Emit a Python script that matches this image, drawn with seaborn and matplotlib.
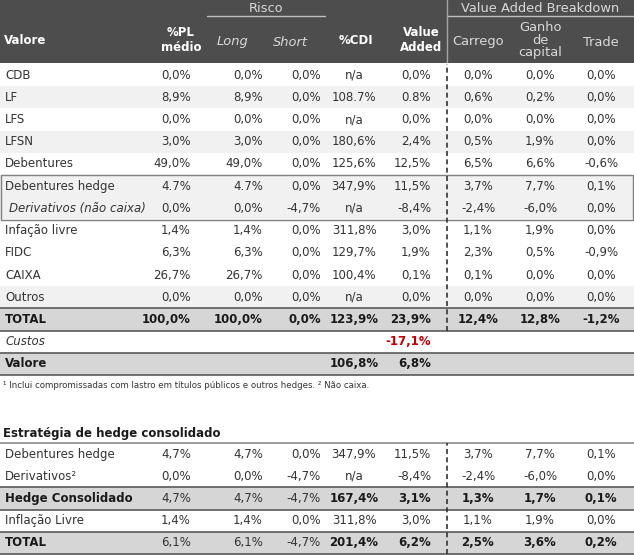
import matplotlib

matplotlib.use("Agg")
import matplotlib.pyplot as plt
import numpy as np
import seaborn as sns
from matplotlib.colors import ListedColormap
from matplotlib.patches import Rectangle

# ---- data -------------------------------------------------------------
top_labels = ["CDB", "LF", "LFS", "LFSN", "Debentures", "Debentures hedge",
              "Derivativos (não caixa)", "Infação livre", "FIDC", "CAIXA",
              "Outros", "TOTAL", "Custos", "Valore"]
top_pl = ["0,0%", "8,9%", "0,0%", "3,0%", "49,0%", "4.7%", "0,0%", "1,4%",
          "6,3%", "26,7%", "0,0%", "100,0%", "", ""]
top_long = ["0,0%", "8,9%", "0,0%", "3,0%", "49,0%", "4.7%", "0,0%", "1,4%",
            "6,3%", "26,7%", "0,0%", "100,0%", "", ""]
top_short = ["0,0%", "0,0%", "0,0%", "0,0%", "0,0%", "0,0%", "-4,7%", "0,0%",
             "0,0%", "0,0%", "0,0%", "0,0%", "", ""]
top_cdi = ["n/a", "108.7%", "n/a", "180,6%", "125,6%", "347,9%", "n/a",
           "311,8%", "129,7%", "100,4%", "n/a", "123,9%", "", "106,8%"]
top_va = ["0,0%", "0.8%", "0,0%", "2,4%", "12,5%", "11,5%", "-8,4%", "3,0%",
          "1,9%", "0,1%", "0,0%", "23,9%", "-17,1%", "6,8%"]
top_carrego = ["0,0%", "0,6%", "0,0%", "0,5%", "6,5%", "3,7%", "-2,4%", "1,1%",
               "2,3%", "0,1%", "0,0%", "12,4%", "", ""]
top_ganho = ["0,0%", "0,2%", "0,0%", "1,9%", "6,6%", "7,7%", "-6,0%", "1,9%",
             "0,5%", "0,0%", "0,0%", "12,8%", "", ""]
top_trade = ["0,0%", "0,0%", "0,0%", "0,0%", "-0,6%", "0,1%", "0,0%", "0,0%",
             "-0,9%", "0,0%", "0,0%", "-1,2%", "", ""]
# 0 = white, 1 = light band, 2 = total band
top_shade = [0, 1, 0, 1, 0, 1, 1, 0, 0, 0, 1, 2, 0, 2]

bot_labels = ["Debentures hedge", "Derivativos²", "Hedge Consolidado",
              "Inflação Livre", "TOTAL"]
bot_pl = ["4,7%", "0,0%", "4,7%", "1,4%", "6,1%"]
bot_long = ["4,7%", "0,0%", "4,7%", "1,4%", "6,1%"]
bot_short = ["0,0%", "-4,7%", "-4,7%", "0,0%", "-4,7%"]
bot_cdi = ["347,9%", "n/a", "167,4%", "311,8%", "201,4%"]
bot_va = ["11,5%", "-8,4%", "3,1%", "3,0%", "6,2%"]
bot_carrego = ["3,7%", "-2,4%", "1,3%", "1,1%", "2,5%"]
bot_ganho = ["7,7%", "-6,0%", "1,7%", "1,9%", "3,6%"]
bot_trade = ["0,1%", "0,0%", "0,1%", "0,0%", "0,2%"]
bot_shade = [0, 0, 2, 0, 2]

footnote = ("¹ Inclui compromissadas com lastro em títulos públicos e outros "
            "hedges. ² Não caixa.")

# ---- style ------------------------------------------------------------
sns.set_theme(style="white")
plt.rcParams["font.family"] = ["DejaVu Sans"]
W, H = 634, 555
HEAD = "#4d4d4d"
BAND = ["#ffffff", "#f1f1f1", "#d6d6d6"]
TXT = "#333333"
LINE = "#7f7f7f"
FS = 8.5

# column x positions (pixels) and alignment
cols = [(191, "right"), (263, "right"), (321, "right"), (354, "center"),
        (431, "right"), (478, "center"), (540, "center"), (601, "center")]
SEP_X = 447 / W

fig = plt.figure(figsize=(W / 100, H / 100), dpi=100)


def band_axes(top_px, bottom_px):
    return fig.add_axes([0, 1 - bottom_px / H, 1, (bottom_px - top_px) / H])


def fig_text(x, y, s, **kw):
    fig.text(x / W, 1 - y / H, s, va="center", **kw)


def shade_rows(ax, shade):
    sns.heatmap(np.array(shade).reshape(-1, 1), ax=ax, cmap=ListedColormap(BAND),
                vmin=-0.5, vmax=2.5, cbar=False, xticklabels=False,
                yticklabels=False)


def fill_rows(ax, labels, columns, bold_from):
    for i, lab in enumerate(labels):
        y = i + 0.5
        start = bold_from.get(i)
        lab_kw = dict(color=TXT, fontsize=FS, va="center")
        if start is not None:
            lab_kw["fontweight"] = "bold"
            lab_kw["color"] = "#1a1a1a"
        x0 = 5
        if lab in ("Derivativos (não caixa)", "Custos"):
            lab_kw["fontstyle"] = "italic"
            if lab.startswith("Deriv"):
                x0 = 9
        ax.text(x0 / W, y, lab, **lab_kw)
        for j, (col, (xp, ha)) in enumerate(zip(columns, cols)):
            s = col[i]
            if not s:
                continue
            kw = dict(color=TXT, fontsize=FS, va="center", ha=ha)
            if start is not None and j >= start:
                kw["fontweight"] = "bold"
                kw["color"] = "#1a1a1a"
            if lab == "Custos":
                kw["color"] = "#c00000"
                kw["fontweight"] = "bold"
            ax.text(xp / W, y, s, **kw)


# ---- header -----------------------------------------------------------
ax_head = band_axes(0, 63.5)
sns.heatmap(np.zeros((1, 1)), ax=ax_head, cmap=ListedColormap([HEAD]),
            cbar=False, xticklabels=False, yticklabels=False)
ax_head.axhline(16 / 63.5, xmin=207 / W, xmax=325 / W, color="#bfbfbf", lw=1)
ax_head.axhline(16 / 63.5, xmin=SEP_X, xmax=1, color="#bfbfbf", lw=1)
ax_head.axvline(SEP_X, color="#a6a6a6", lw=1)

white_b = dict(color="white", fontsize=FS, fontweight="bold")
light = dict(color="#d9d9d9", fontsize=9.4)
fig_text(4, 41, "Valore", ha="left", **white_b)
fig_text(181, 40, "%PL\nmédio", ha="center", linespacing=1.25, **white_b)
fig_text(356, 41, "%CDI", ha="center", **white_b)
fig_text(421, 40, "Value\nAdded", ha="center", linespacing=1.25, **white_b)
fig_text(266, 8, "Risco", ha="center", **light)
fig_text(540, 8, "Value Added Breakdown", ha="center", **light)
fig_text(233, 42, "Long", ha="center", fontstyle="italic", **light)
fig_text(290, 42, "Short", ha="center", fontstyle="italic", **light)
fig_text(478, 42, "Carrego", ha="center", **light)
fig_text(540, 40, "Ganho\nde\ncapital", ha="center", linespacing=0.95, **light)
fig_text(601, 42, "Trade", ha="center", **light)

# ---- top table --------------------------------------------------------
ax_top = band_axes(64, 375)
shade_rows(ax_top, top_shade)
top_cols = [top_pl, top_long, top_short, top_cdi, top_va,
            top_carrego, top_ganho, top_trade]
fill_rows(ax_top, top_labels, top_cols, {11: 0, 13: 0})
ax_top.add_patch(Rectangle((0.001, 5), 0.997, 2, fill=False, edgecolor=LINE,
                           lw=1, clip_on=False))
for yy in (11, 12, 13, 14):
    ax_top.axhline(yy, color="#595959", lw=1.2, clip_on=False)
ax_top.axvline(SEP_X, ymin=2 / 14, ymax=1, color="#333333", lw=1.2,
               linestyle=(0, (3, 2)))

fig_text(3, 386, footnote, ha="left", color=TXT, fontsize=6.2)

# ---- bottom table -----------------------------------------------------
fig_text(3, 433, "Estratégia de hedge consolidado", ha="left", color="#1a1a1a",
         fontsize=FS, fontweight="bold")
ax_bot = band_axes(443, 554)
shade_rows(ax_bot, bot_shade)
bot_cols = [bot_pl, bot_long, bot_short, bot_cdi, bot_va,
            bot_carrego, bot_ganho, bot_trade]
fill_rows(ax_bot, bot_labels, bot_cols, {2: 3, 4: 3})
for yy in (0, 2, 3, 4, 5):
    ax_bot.axhline(yy, color="#8c8c8c" if yy == 0 else "#595959", lw=1.2,
                   clip_on=False)
ax_bot.axvline(SEP_X, color="#333333", lw=1.2, linestyle=(0, (3, 2)))

fig.savefig("out.png", dpi=100)
